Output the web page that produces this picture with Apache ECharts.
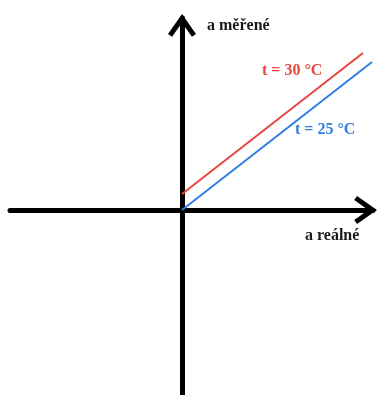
<!DOCTYPE html>
<html>
<head>
<meta charset="utf-8">
<script src="https://cdn.jsdelivr.net/npm/echarts@6/dist/echarts.min.js"></script>
<style>html,body{margin:0;padding:0;background:#fff}#c{width:378px;height:395px}</style>
</head>
<body>
<div id="c"></div>
<script>
// data (units: arbitrary)
const xRange = [-172, 191];
const yRange = [-185, 192];
const line25 = [[0, 0], [190, 148]];
const line30 = [[0, 16], [181, 157]];
const seriesNames = ['t = 25 °C', 't = 30 °C'];
const axisNames = ['a reálné', 'a měřené'];

const arrowPath = 'path://M14.04,0 L28.08,19.89 L24,22.77 L14.04,8.66 L4.08,22.77 L0,19.89 Z';
const axisLine = {
  show: true, onZero: true,
  lineStyle: { color: '#000', width: 5 },
  symbol: ['none', arrowPath],
  symbolSize: [28, 22.8],
  symbolOffset: [0, -7.4]
};
const font = 'bold 16px "Liberation Serif", "DejaVu Serif", serif';

const chart = echarts.init(document.getElementById('c'), null, { renderer: 'canvas' });
chart.setOption({
  animation: false,
  backgroundColor: '#fff',
  grid: { left: 10, right: 5, top: 18, bottom: 0, containLabel: false },
  xAxis: {
    type: 'value', min: xRange[0], max: xRange[1],
    axisLine: axisLine, axisTick: { show: false }, axisLabel: { show: false }, splitLine: { show: false }
  },
  yAxis: {
    type: 'value', min: yRange[0], max: yRange[1],
    axisLine: axisLine, axisTick: { show: false }, axisLabel: { show: false }, splitLine: { show: false }
  },
  series: [
    { name: seriesNames[0], type: 'line', data: line25, symbol: 'none', z: 3,
      lineStyle: { color: '#2f7de0', width: 2 } },
    { name: seriesNames[1], type: 'line', data: line30, symbol: 'none', z: 3,
      lineStyle: { color: '#e8463c', width: 2 } }
  ],
  graphic: [
    { type: 'text', x: 207, y: 26, style: { text: axisNames[1], font: font, fill: '#1a1a1a', verticalAlign: 'middle' } },
    { type: 'text', x: 262, y: 71, style: { text: seriesNames[1], font: font, fill: '#e8463c', verticalAlign: 'middle' } },
    { type: 'text', x: 295, y: 130, style: { text: seriesNames[0], font: font, fill: '#2f7de0', verticalAlign: 'middle' } },
    { type: 'text', x: 305, y: 235.5, style: { text: axisNames[0], font: font, fill: '#1a1a1a', verticalAlign: 'middle' } }
  ]
});
</script>
</body>
</html>
